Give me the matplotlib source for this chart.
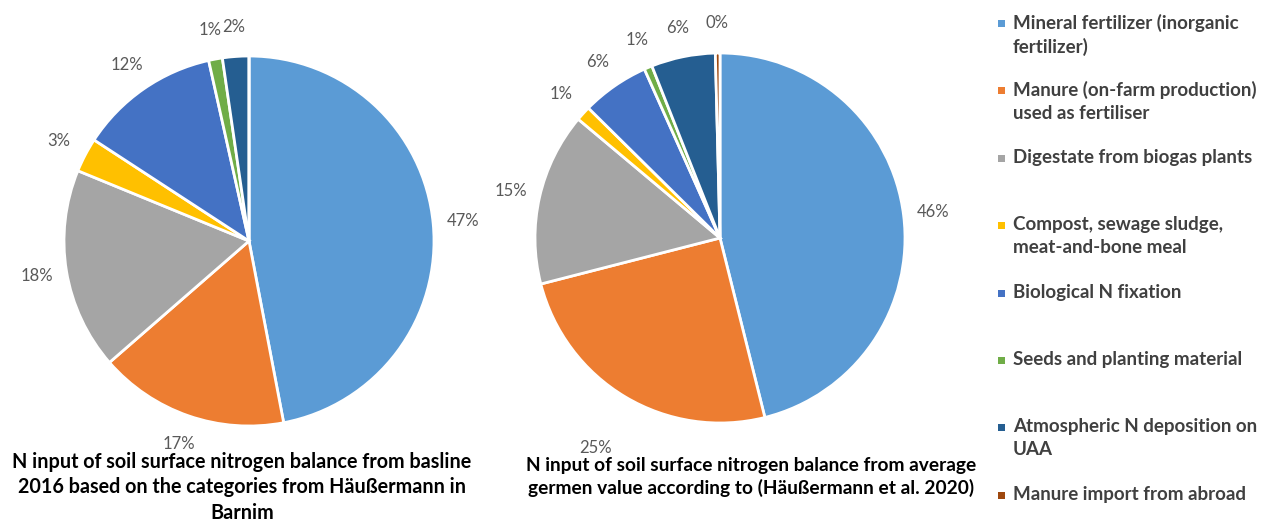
import matplotlib
matplotlib.use("Agg")
import matplotlib.pyplot as plt
from matplotlib.patches import Rectangle

plt.rcParams['font.family'] = ['Lato', 'DejaVu Sans']

categories = [
    "Mineral fertilizer (inorganic\nfertilizer)",
    "Manure (on-farm production)\nused as fertiliser",
    "Digestate from biogas plants",
    "Compost, sewage sludge,\nmeat-and-bone meal",
    "Biological N fixation",
    "Seeds and planting material",
    "Atmospheric N deposition on\nUAA",
    "Manure import from abroad",
]
colors = ["#5B9BD5", "#ED7D31", "#A5A5A5", "#FFC000",
          "#4472C4", "#70AD47", "#255E91", "#9E480E"]

# Shares in percent
barnim_2016 = [47.0, 16.6, 17.6, 3.0, 12.3, 1.2, 2.3, 0.0]
german_avg = [46.1, 24.9, 15.1, 1.3, 5.9, 0.7, 5.6, 0.4]

title_left = ("N input of soil surface nitrogen balance from basline\n"
              "2016 based on the categories from Häußermann in\nBarnim")
title_right = ("N input of soil surface nitrogen balance from average\n"
               "germen value according to (Häußermann et al. 2020)")

W, H = 1264, 521
fig = plt.figure(figsize=(W / 100, H / 100), dpi=100)

R = 185.0
LIM = 1.4


def pie_axes(cx, cy):
    half = R * LIM
    return fig.add_axes([(cx - half) / W, (H - cy - half) / H,
                         2 * half / W, 2 * half / H])


def draw_pie(ax, values, show_zero, far=None):
    vals = [v if v > 0 else 1e-9 for v in values]
    wedges, texts, autotexts = ax.pie(
        vals, colors=colors, startangle=90, counterclock=False,
        radius=1.0, pctdistance=1.16,
        autopct=lambda p: f"{p:.0f}%",
        wedgeprops=dict(edgecolor="white", linewidth=2),
        textprops=dict(color="#595959", fontsize=12))
    for i, t in enumerate(autotexts):
        if values[i] <= 0 and not show_zero:
            t.set_visible(False)
        if far is not None and i == far:
            x, y = t.get_position()
            t.set_position((x * 1.32 / 1.16, y * 1.32 / 1.16))
    ax.set_xlim(-LIM, LIM)
    ax.set_ylim(-LIM, LIM)
    ax.set_aspect("equal")
    ax.axis("off")


ax1 = pie_axes(249, 241)
draw_pie(ax1, barnim_2016, show_zero=False)
ax2 = pie_axes(720, 238)
draw_pie(ax2, german_avg, show_zero=True, far=1)

fig.text(242 / W, 1 - 452 / H, title_left, ha="center", va="top",
         fontsize=14.2, fontweight="bold", color="black", linespacing=1.33)
fig.text(751 / W, 1 - 457 / H, title_right, ha="center", va="top",
         fontsize=13.8, fontweight="bold", color="black", linespacing=1.33)

# Legend drawn as a column of colour squares with wrapped labels
top0 = 14
step = 67.4
for i, (lab, col) in enumerate(zip(categories, colors)):
    y = top0 + i * step
    fig.patches.append(Rectangle((998 / W, 1 - (y + 13) / H), 7 / W, 7 / H,
                                 transform=fig.transFigure, facecolor=col,
                                 edgecolor="none"))
    fig.text(1013 / W, 1 - y / H, lab, ha="left", va="top", fontsize=13.5,
             fontweight="bold", color="#404040", linespacing=1.4)

fig.savefig("out.png", dpi=100, facecolor="white")
